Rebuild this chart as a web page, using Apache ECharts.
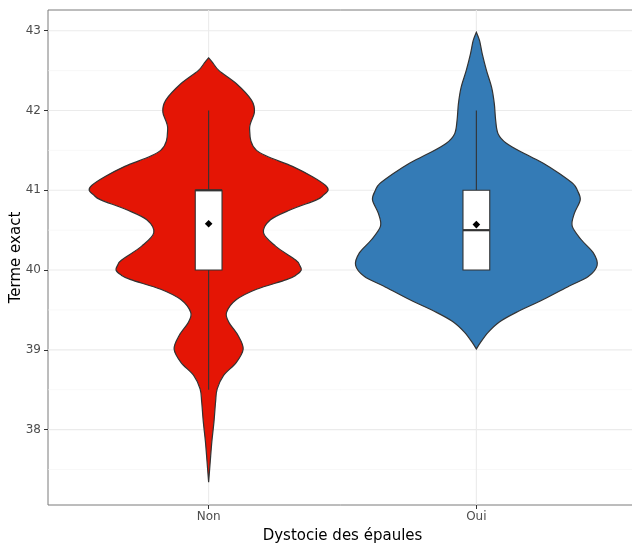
<!DOCTYPE html>
<html><head><meta charset="utf-8">
<script src="https://cdn.jsdelivr.net/npm/echarts@6/dist/echarts.min.js"></script>
<style>html,body{margin:0;padding:0;background:#fff}#c{width:632px;height:545px}</style>
</head><body><div id="c"></div>
<script>
// ---- data ----
const categories = ['Non', 'Oui'];
// violin outlines: y values and half-widths (fraction of a category slot)
const nonY = [42.66, 42.60, 42.5, 42.335, 42.13, 41.98, 41.77, 41.5, 41.3, 41.17, 41.06, 41.0, 40.94, 40.88, 40.756, 40.63, 40.465, 40.30, 40.125, 40.06, 40.0, 39.94, 39.88, 39.76, 39.63, 39.47, 39.35, 39.18, 39.01, 38.84, 38.68, 38.51, 38.35, 38.1, 37.85, 37.6, 37.34];
const nonW = [0, 0.015, 0.039, 0.104, 0.160, 0.171, 0.153, 0.179, 0.313, 0.388, 0.437, 0.446, 0.429, 0.403, 0.306, 0.231, 0.205, 0.250, 0.325, 0.340, 0.346, 0.328, 0.291, 0.179, 0.104, 0.067, 0.075, 0.110, 0.129, 0.103, 0.056, 0.032, 0.026, 0.020, 0.012, 0.006, 0];
const ouiY = [42.98, 42.875, 42.71, 42.5, 42.29, 42.086, 41.88, 41.71, 41.59, 41.46, 41.34, 41.21, 41.08, 41.0, 40.88, 40.71, 40.55, 40.38, 40.215, 40.06, 39.92, 39.80, 39.63, 39.47, 39.35, 39.22, 39.09, 39.01];
const ouiW = [0, 0.012, 0.022, 0.038, 0.057, 0.067, 0.072, 0.081, 0.112, 0.179, 0.250, 0.310, 0.362, 0.377, 0.388, 0.366, 0.358, 0.392, 0.437, 0.451, 0.418, 0.347, 0.250, 0.149, 0.086, 0.044, 0.015, 0];
// box statistics
const boxQ1 = [40, 40];
const boxMedian = [41, 40.5];
const boxQ3 = [41, 41];
const whiskerLow = [38.5, 40];
const whiskerHigh = [42, 42];
const means = [40.58, 40.57];
// ticks
const yMajorTicks = [38, 39, 40, 41, 42, 43];
const yMinorTicks = [37.5, 38.5, 39.5, 40.5, 41.5, 42.5];
const xTicks = [1, 2];

// ---- styling ----
const fills = ['#E41505', '#347BB6'];
const outline = '#333333';
const FONT = 'DejaVu Sans';
const profilesY = [nonY, ouiY];
const profilesW = [nonW, ouiW];
const boxHalf = 0.05;

const gridData = [];
yMinorTicks.forEach(v => gridData.push([0, v]));
yMajorTicks.forEach(v => gridData.push([1, v]));
xTicks.forEach(v => gridData.push([2, v]));

// smooth curve path through pixel points (Catmull-Rom -> cubic Bezier)
function curvePath(pts, moveFirst) {
  let d = moveFirst ? 'M' + pts[0][0] + ' ' + pts[0][1] : '';
  const n = pts.length;
  for (let i = 0; i < n - 1; i++) {
    const p0 = pts[Math.max(i - 1, 0)], p1 = pts[i], p2 = pts[i + 1], p3 = pts[Math.min(i + 2, n - 1)];
    const c1x = p1[0] + (p2[0] - p0[0]) / 6, c1y = p1[1] + (p2[1] - p0[1]) / 6;
    const c2x = p2[0] - (p3[0] - p1[0]) / 6, c2y = p2[1] - (p3[1] - p1[1]) / 6;
    d += 'C' + c1x + ' ' + c1y + ' ' + c2x + ' ' + c2y + ' ' + p2[0] + ' ' + p2[1];
  }
  return d;
}

const chart = echarts.init(document.getElementById('c'), null, {renderer: 'canvas'});
chart.setOption({
  animation: false,
  backgroundColor: '#ffffff',
  grid: {left: 48, top: 10, width: 589, height: 495, outerBoundsMode: 'none', containLabel: false, show: true, borderColor: '#7a7a7a', borderWidth: 1, backgroundColor: 'transparent'},
  xAxis: {
    type: 'value', min: 0.4, max: 2.6,
    axisLine: {show: false},
    splitLine: {show: false},
    axisTick: {show: true, customValues: xTicks, length: 4, lineStyle: {color: outline, width: 1}},
    axisLabel: {customValues: xTicks, formatter: v => categories[Math.round(v) - 1], color: '#4d4d4d', fontSize: 12, fontFamily: FONT, margin: 6},
    name: 'Dystocie des épaules', nameLocation: 'middle', nameGap: 24, nameMoveOverlap: false,
    nameTextStyle: {color: '#000', fontSize: 15, fontFamily: FONT}
  },
  yAxis: {
    type: 'value', min: 37.055, max: 43.26,
    axisLine: {show: false},
    splitLine: {show: false},
    axisTick: {show: true, customValues: yMajorTicks, length: 4, lineStyle: {color: outline, width: 1}},
    axisLabel: {customValues: yMajorTicks, color: '#4d4d4d', fontSize: 12, fontFamily: FONT, margin: 7},
    name: 'Terme exact', nameLocation: 'middle', nameGap: 24, nameMoveOverlap: false,
    nameTextStyle: {color: '#000', fontSize: 15, fontFamily: FONT}
  },
  series: [
    {
      type: 'custom', name: 'grid', silent: true, z: 1, clip: true,
      data: gridData,
      renderItem: function (params, api) {
        const kind = api.value(0), v = api.value(1);
        const cs = params.coordSys;
        let x1, y1, x2, y2;
        if (kind === 2) {
          const p = api.coord([v, 40]);
          x1 = x2 = p[0]; y1 = cs.y; y2 = cs.y + cs.height;
        } else {
          const p = api.coord([1, v]);
          y1 = y2 = p[1]; x1 = cs.x; x2 = cs.x + cs.width;
        }
        return {
          type: 'line',
          shape: {x1: x1, y1: y1, x2: x2, y2: y2},
          style: {stroke: kind === 0 ? '#f4f4f4' : '#ebebeb', lineWidth: kind === 0 ? 0.6 : 1.1}
        };
      }
    },
    {
      type: 'custom', name: 'violin', z: 2,
      data: [[1], [2]],
      renderItem: function (params, api) {
        const i = params.dataIndex;
        const cx = api.value(0);
        const ys = profilesY[i], ws = profilesW[i];
        const right = [], left = [];
        for (let k = 0; k < ys.length; k++) right.push(api.coord([cx + ws[k], ys[k]]));
        for (let k = ys.length - 1; k >= 0; k--) left.push(api.coord([cx - ws[k], ys[k]]));
        const d = curvePath(right, true) + curvePath(left, false) + 'Z';
        return {
          type: 'path',
          shape: {pathData: d},
          style: {fill: fills[i], stroke: outline, lineWidth: 1.2}
        };
      }
    },
    {
      type: 'custom', name: 'box', z: 3,
      data: [[1], [2]],
      renderItem: function (params, api) {
        const i = params.dataIndex;
        const cx = api.value(0);
        const tl = api.coord([cx - boxHalf, boxQ3[i]]);
        const br = api.coord([cx + boxHalf, boxQ1[i]]);
        const c = api.coord([cx, 0]);
        const wh = api.coord([cx, whiskerHigh[i]]);
        const wl = api.coord([cx, whiskerLow[i]]);
        const md = api.coord([cx, boxMedian[i]]);
        const mn = api.coord([cx, means[i]]);
        const d = 3.8;
        return {
          type: 'group',
          children: [
            {type: 'line', shape: {x1: c[0], y1: tl[1], x2: c[0], y2: wh[1]}, style: {stroke: outline, lineWidth: 1.1}},
            {type: 'line', shape: {x1: c[0], y1: br[1], x2: c[0], y2: wl[1]}, style: {stroke: outline, lineWidth: 1.1}},
            {type: 'rect', shape: {x: tl[0], y: tl[1], width: br[0] - tl[0], height: br[1] - tl[1]}, style: {fill: '#ffffff', stroke: outline, lineWidth: 1.1}},
            {type: 'line', shape: {x1: tl[0], y1: md[1], x2: br[0], y2: md[1]}, style: {stroke: outline, lineWidth: 2.2}},
            {type: 'polygon', shape: {points: [[mn[0], mn[1] - d], [mn[0] + d, mn[1]], [mn[0], mn[1] + d], [mn[0] - d, mn[1]]]}, style: {fill: '#000000'}}
          ]
        };
      }
    }
  ]
});
</script>
</body></html>
